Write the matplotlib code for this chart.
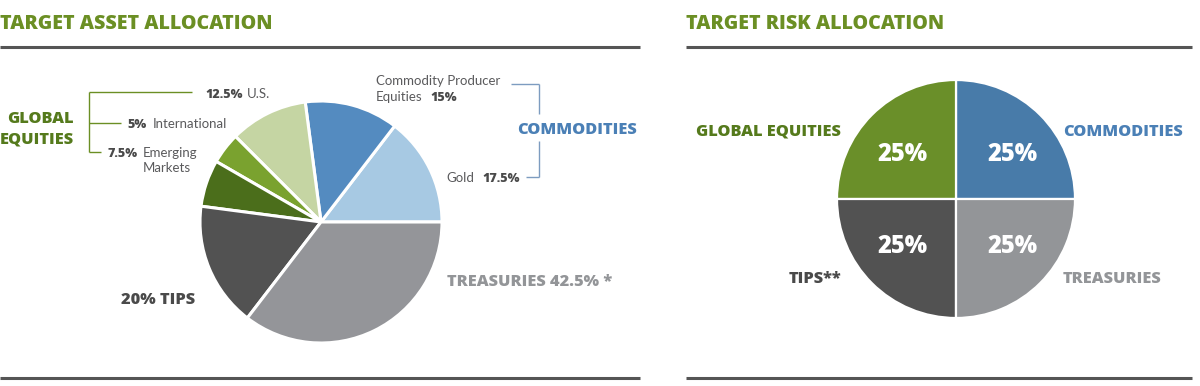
import matplotlib
matplotlib.use('Agg')
import matplotlib.pyplot as plt

# Left pie: target asset allocation (values sum to 120%, pie is drawn proportionally)
asset_labels = ['Gold', 'Commodity Producer Equities', 'U.S.', 'International',
                'Emerging Markets', 'TIPS', 'Treasuries']
asset_values = [17.5, 15, 12.5, 5, 7.5, 20, 42.5]
asset_colors = ['#a7c9e3', '#548bc0', '#c5d5a3', '#7aa22f', '#4b6e1b', '#525252', '#949599']

# Right pie: target risk allocation
risk_labels = ['COMMODITIES', 'GLOBAL EQUITIES', 'TIPS**', 'TREASURIES']
risk_values = [25, 25, 25, 25]
risk_colors = ['#487ba9', '#6a8f29', '#525252', '#939598']

W, H = 1200, 386
FONT = 'Lato'
BOLD_FONT = 'Open Sans'
HEAVY = 800
TITLE_GREEN = '#6b8f24'
DARK_GREEN = '#557a1c'
BLUE = '#4b80b6'
NUM = '#4a4a4a'
TXT = '#5a5a5c'
RULE = '#555555'
LABEL = 11.8


def Y(y):
    # image pixel row -> data y (y axis points up)
    return H - y


fig = plt.figure(figsize=(12, 3.86), dpi=100)
ax = fig.add_axes([0, 0, 1, 1])

# pies
ax.pie(asset_values, colors=asset_colors, startangle=0, counterclock=True,
       center=(321, Y(222)), radius=121,
       wedgeprops=dict(edgecolor='white', linewidth=2.2))
ax.pie(risk_values, colors=risk_colors, startangle=0, counterclock=True,
       center=(956, Y(199)), radius=119,
       wedgeprops=dict(edgecolor='white', linewidth=1.6))

ax.set_xlim(0, W)
ax.set_ylim(0, H)
ax.set_aspect('equal')
ax.axis('off')


def txt(x, y, s, size, color, weight='normal', ha='left'):
    fam = BOLD_FONT if weight != 'normal' else FONT
    ax.text(x, Y(y), s, fontsize=size, color=color, fontweight=weight,
            family=fam, ha=ha, va='baseline')


def line(xs, ys, color, lw):
    ax.plot(xs, [Y(v) for v in ys], color=color, lw=lw, solid_capstyle='butt')


# titles and rules
txt(0, 29, 'TARGET ASSET ALLOCATION', 14.1, TITLE_GREEN, HEAVY)
txt(686, 29, 'TARGET RISK ALLOCATION', 14.1, TITLE_GREEN, HEAVY)
for x0, x1 in [(0, 640), (686, 1192)]:
    line([x0, x1], [47, 47], RULE, 2.2)
    line([x0, x1], [378, 378], RULE, 2.2)

# left: global equities bracket
txt(74, 123, 'GLOBAL', LABEL, DARK_GREEN, HEAVY, 'right')
txt(74, 144, 'EQUITIES', LABEL, DARK_GREEN, HEAVY, 'right')
line([89, 89], [92, 152], TITLE_GREEN, 1)
line([89, 192], [92, 92], TITLE_GREEN, 1)
line([89, 121], [123, 123], TITLE_GREEN, 1)
line([89, 101], [152, 152], TITLE_GREEN, 1)

txt(205, 98, '12.5%', 9, NUM, HEAVY)
txt(247, 98, 'U.S.', 9.5, TXT)
txt(127, 128, '5%', 9, NUM, HEAVY)
txt(153, 128, 'International', 9.5, TXT)
txt(108, 157, '7.5%', 9, NUM, HEAVY)
txt(143, 157, 'Emerging', 9.5, TXT)
txt(143, 172, 'Markets', 9.5, TXT)

# left: commodities bracket
txt(376, 85, 'Commodity Producer', 9.5, TXT)
txt(376, 101, 'Equities', 9.5, TXT)
txt(430, 101, '15%', 9, NUM, HEAVY)
txt(446, 182, 'Gold', 9.5, TXT)
txt(482, 182, '17.5%', 9, NUM, HEAVY)
txt(517, 134, 'COMMODITIES', LABEL, BLUE, HEAVY)
BR = '#7d9cc0'
line([511, 539], [84, 84], BR, 1)
line([539, 539], [84, 114], BR, 1)
line([539, 539], [141, 177], BR, 1)
line([526, 539], [177, 177], BR, 1)

txt(447, 286, 'TREASURIES 42.5% *', LABEL, '#939598', HEAVY)
txt(121, 304, '20% TIPS', LABEL, NUM, HEAVY)

# right pie labels
txt(841, 136, risk_labels[1], LABEL, DARK_GREEN, HEAVY, 'right')
txt(1063, 136, risk_labels[0], LABEL, BLUE, HEAVY)
txt(841, 283, risk_labels[2], LABEL, NUM, HEAVY, 'right')
txt(1063, 283, risk_labels[3], LABEL, '#939598', HEAVY)
for (x, y), v in zip([(1013, 161), (903, 161), (903, 253), (1013, 253)], risk_values):
    txt(x, y, f'{v:g}%', 17, 'white', HEAVY, 'center')

fig.savefig('out.png', dpi=100)
